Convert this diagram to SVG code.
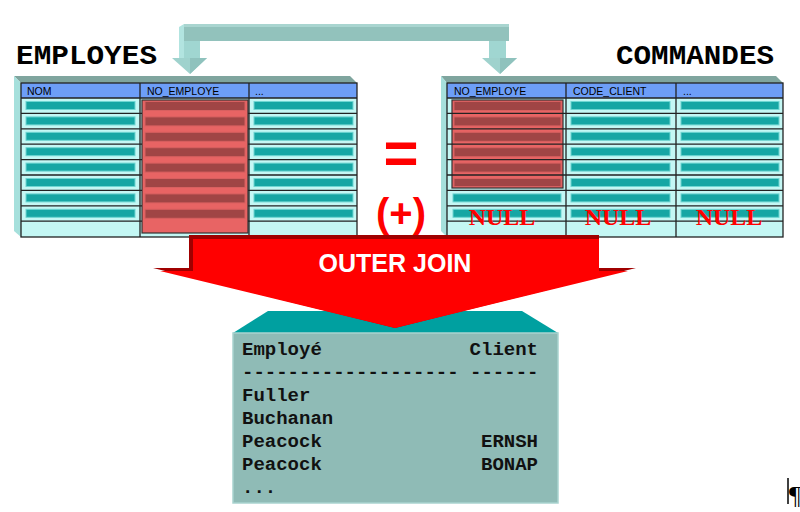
<svg xmlns="http://www.w3.org/2000/svg" width="800" height="512" viewBox="0 0 800 512">
<defs>
<style>
.title{font-family:"Liberation Mono","Courier New",monospace;font-weight:bold;font-size:28px;fill:#000}
.hdr{font-family:"Liberation Sans",Arial,sans-serif;font-size:10.5px;fill:#000}
.cell{fill:#c4f7f4}
.bar{fill:#16a6a4;stroke:#6fd6d2;stroke-width:1}
.rbar{fill:#a04545;stroke:#d86060;stroke-width:1}
.line{stroke:#222;stroke-width:1.3;fill:none}
.hbg{fill:#6d9ef7}
.topf{fill:#7fa59e}
.sidef{fill:#a6e0dc}
.null{font-family:"Liberation Serif","Times New Roman",serif;font-weight:bold;font-size:24px;fill:#ff0000;text-anchor:middle}
.res{font-family:"Liberation Mono","Courier New",monospace;font-weight:bold;font-size:19px;fill:#111}
.op{font-family:"Liberation Sans",Arial,sans-serif;font-weight:bold;fill:#ff0000;text-anchor:middle}
</style>
</defs>
<rect width="800" height="512" fill="#fff"/>

<!-- connectors -->
<g id="connectors">
  <g id="top-arrow">
    <polygon points="179,27 184,24 184,58 179,58" fill="#b2e4e0"/>
    <rect x="184" y="24" width="325" height="17" fill="#92c2bc"/>
    <rect x="184" y="24" width="325" height="3" fill="#a9d5d0"/>
    <rect x="184" y="41" width="16" height="18" fill="#a0d6d1"/>
    <rect x="489" y="41" width="17" height="18" fill="#a0d6d1"/>
    <polygon points="172,58 207,58 190,74" fill="#9fd2cd"/>
    <polygon points="190,58 207,58 190,74" fill="#8fc2bd"/>
    <polygon points="482,58 517,58 500,74" fill="#9fd2cd"/>
    <polygon points="500,58 517,58 500,74" fill="#8fc2bd"/>
  </g>
</g>

<!-- EMPLOYES table -->
<g id="employes">
  <text class="title" x="16" y="64" textLength="141" lengthAdjust="spacingAndGlyphs">EMPLOYES</text>
  <polygon class="topf" points="14,76 350,76 357,83 21,83"/>
  <polygon class="sidef" points="14,76 21,83 21,237 14,231"/>
  <rect class="cell" x="21" y="83" width="336" height="154"/>
  <rect class="hbg" x="21" y="83" width="336" height="15"/>
  <g>
    <rect class="bar" x="26" y="101.5" width="109" height="8"/><rect class="bar" x="254" y="101.5" width="99" height="8"/>
    <rect class="bar" x="26" y="116.9" width="109" height="8"/><rect class="bar" x="254" y="116.9" width="99" height="8"/>
    <rect class="bar" x="26" y="132.3" width="109" height="8"/><rect class="bar" x="254" y="132.3" width="99" height="8"/>
    <rect class="bar" x="26" y="147.7" width="109" height="8"/><rect class="bar" x="254" y="147.7" width="99" height="8"/>
    <rect class="bar" x="26" y="163.1" width="109" height="8"/><rect class="bar" x="254" y="163.1" width="99" height="8"/>
    <rect class="bar" x="26" y="178.5" width="109" height="8"/><rect class="bar" x="254" y="178.5" width="99" height="8"/>
    <rect class="bar" x="26" y="193.9" width="109" height="8"/><rect class="bar" x="254" y="193.9" width="99" height="8"/>
    <rect class="bar" x="26" y="209.3" width="109" height="8"/><rect class="bar" x="254" y="209.3" width="99" height="8"/>
  </g>
  <g>
    <rect x="142" y="100" width="106" height="133" fill="#e86464" stroke="#333" stroke-width="1.2"/>
    <rect class="rbar" x="145" y="101.5" width="100" height="9"/>
    <rect class="rbar" x="145" y="116.9" width="100" height="9"/>
    <rect class="rbar" x="145" y="132.3" width="100" height="9"/>
    <rect class="rbar" x="145" y="147.7" width="100" height="9"/>
    <rect class="rbar" x="145" y="163.1" width="100" height="9"/>
    <rect class="rbar" x="145" y="178.5" width="100" height="9"/>
    <rect class="rbar" x="145" y="193.9" width="100" height="9"/>
    <rect class="rbar" x="145" y="209.3" width="100" height="9"/>
  </g>
  <path class="line" d="M21,98H357M21,113.4H142M248,113.4H357M21,128.8H142M248,128.8H357M21,144.2H142M248,144.2H357M21,159.6H142M248,159.6H357M21,175H142M248,175H357M21,190.4H142M248,190.4H357M21,205.8H142M248,205.8H357M21,221.2H142M248,221.2H357M140,83V237M249,83V237"/>
  <rect class="line" x="21" y="83" width="336" height="154"/>
  <text class="hdr" x="27" y="95">NOM</text>
  <text class="hdr" x="147" y="95">NO_EMPLOYE</text>
  <text class="hdr" x="255" y="95">...</text>
</g>

<!-- COMMANDES table -->
<g id="commandes">
  <text class="title" x="616" y="64" textLength="158" lengthAdjust="spacingAndGlyphs">COMMANDES</text>
  <polygon class="topf" points="441,76 776,76 783,83 447,83"/>
  <polygon class="sidef" points="441,76 447,83 447,237 441,231"/>
  <rect class="cell" x="447" y="83" width="336" height="154"/>
  <rect class="hbg" x="447" y="83" width="336" height="15"/>
  <g>
    <rect class="bar" x="571" y="101.5" width="99" height="8"/><rect class="bar" x="681" y="101.5" width="98" height="8"/>
    <rect class="bar" x="571" y="116.9" width="99" height="8"/><rect class="bar" x="681" y="116.9" width="98" height="8"/>
    <rect class="bar" x="571" y="132.3" width="99" height="8"/><rect class="bar" x="681" y="132.3" width="98" height="8"/>
    <rect class="bar" x="571" y="147.7" width="99" height="8"/><rect class="bar" x="681" y="147.7" width="98" height="8"/>
    <rect class="bar" x="571" y="163.1" width="99" height="8"/><rect class="bar" x="681" y="163.1" width="98" height="8"/>
    <rect class="bar" x="571" y="178.5" width="99" height="8"/><rect class="bar" x="681" y="178.5" width="98" height="8"/>
    <rect class="bar" x="453" y="193.9" width="108" height="8"/><rect class="bar" x="571" y="193.9" width="99" height="8"/><rect class="bar" x="681" y="193.9" width="98" height="8"/>
    <rect class="bar" x="453" y="209.3" width="108" height="8"/><rect class="bar" x="571" y="209.3" width="99" height="8"/><rect class="bar" x="681" y="209.3" width="98" height="8"/>
  </g>
  <g>
    <rect x="452" y="100" width="111" height="88" fill="#e86464" stroke="#333" stroke-width="1.2"/>
    <rect class="rbar" x="454" y="101.5" width="107" height="9"/>
    <rect class="rbar" x="454" y="116.9" width="107" height="9"/>
    <rect class="rbar" x="454" y="132.3" width="107" height="9"/>
    <rect class="rbar" x="454" y="147.7" width="107" height="9"/>
    <rect class="rbar" x="454" y="163.1" width="107" height="9"/>
    <rect class="rbar" x="454" y="178.5" width="107" height="8"/>
  </g>
  <path class="line" d="M447,98H783M447,113.4H783M447,128.8H783M447,144.2H783M447,159.6H783M447,175H783M447,190.4H783M447,205.8H783M447,221.2H783M566,83V237M676,83V237"/>
  <rect class="line" x="447" y="83" width="336" height="154"/>
  <text class="hdr" x="454" y="95">NO_EMPLOYE</text>
  <text class="hdr" x="573" y="95">CODE_CLIENT</text>
  <text class="hdr" x="683" y="95">...</text>
  <text class="null" x="502" y="225">NULL</text>
  <text class="null" x="618" y="225">NULL</text>
  <text class="null" x="729" y="225">NULL</text>
</g>

<!-- operators -->
<g id="operators">
  <text class="op" x="401" y="173" font-size="60">=</text>
  <text class="op" x="401" y="227" font-size="40">(+)</text>
</g>

<!-- result box -->
<g id="result">
  <polygon points="268,311 522,311 558,333 233,333" fill="#00a0a0"/>
  <rect x="233" y="333" width="325" height="170" fill="#8fbbb6" stroke="#a9d3cf" stroke-width="1.5"/>
  <text class="res" x="242" y="355">Employé</text>
  <text class="res" x="538" y="355" text-anchor="end">Client</text>
  <text class="res" x="242" y="378" xml:space="preserve">------------------- ------</text>
  <text class="res" x="242" y="401">Fuller</text>
  <text class="res" x="242" y="424">Buchanan</text>
  <text class="res" x="242" y="447">Peacock</text>
  <text class="res" x="538" y="447" text-anchor="end">ERNSH</text>
  <text class="res" x="242" y="470">Peacock</text>
  <text class="res" x="538" y="470" text-anchor="end">BONAP</text>
  <text class="res" x="242" y="493">...</text>
</g>

<!-- outer join arrow -->
<g id="outer-join">
  <polygon points="189,235 599,235 599,268 636,268 395,328 153,268 189,268" fill="#a00000"/>
  <polygon points="193,239 599,239 599,271 628,271 395,328 160,271 193,271" fill="#ff0000"/>
  <text x="395" y="272" text-anchor="middle" font-family="'Liberation Sans',Arial,sans-serif" font-weight="bold" font-size="25" fill="#fff">OUTER JOIN</text>
</g>

<g id="mark">
  <line x1="788" y1="478" x2="788" y2="504" stroke="#000" stroke-width="1.5"/>
  <text x="789" y="504" font-family="'Liberation Serif',serif" font-size="26" fill="#000">¶</text>
</g>
</svg>
